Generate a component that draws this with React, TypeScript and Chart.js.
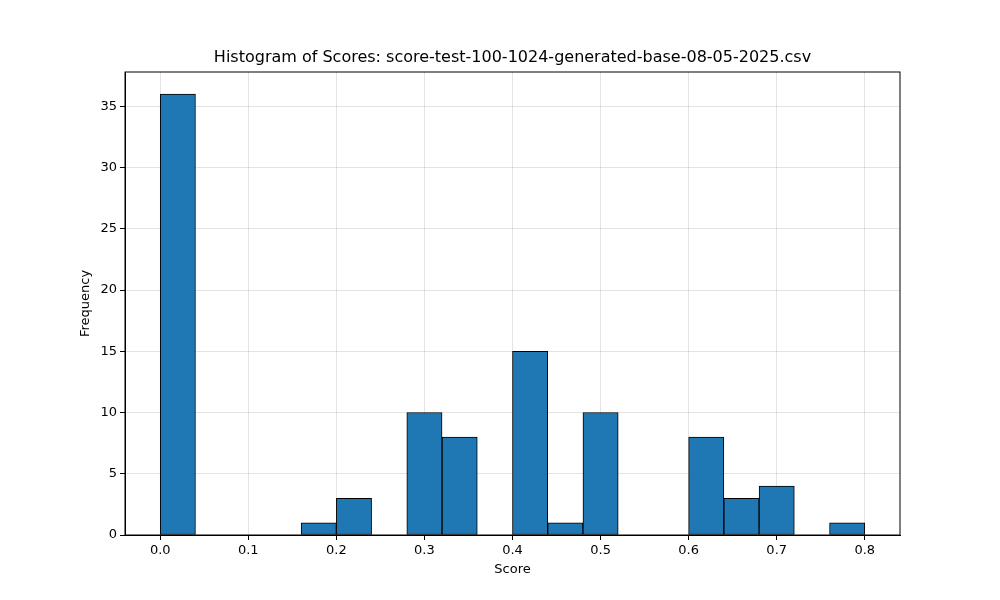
import { useEffect, useRef } from "react";
import Chart from "chart.js/auto";

const binStarts = [0, 0.04, 0.08, 0.12, 0.16, 0.2, 0.24, 0.28, 0.32, 0.36, 0.4, 0.44, 0.48, 0.52, 0.56, 0.6, 0.64, 0.68, 0.72, 0.76];
const binWidth = 0.04;
const counts = [36, 0, 0, 0, 1, 3, 0, 10, 8, 0, 15, 1, 10, 0, 0, 8, 3, 4, 0, 1];
const xTicks = [0, 0.1, 0.2, 0.3, 0.4, 0.5, 0.6, 0.7, 0.8];
const yTicks = [0, 5, 10, 15, 20, 25, 30, 35];

const FONT = "'DejaVu Sans', sans-serif";

export default function App() {
  const canvasRef = useRef<HTMLCanvasElement | null>(null);

  useEffect(() => {
    if (!canvasRef.current) return;
    const chart = new Chart(canvasRef.current, {
      type: "bar",
      data: {
        datasets: [
          {
            data: binStarts.map((s, i) => ({ x: s + binWidth / 2, y: counts[i] })),
            backgroundColor: "#1f77b4",
            borderColor: "#000000",
            borderWidth: 1,
            borderSkipped: false,
            barPercentage: 1,
            categoryPercentage: 1,
          },
        ],
      },
      options: {
        animation: false,
        responsive: false,
        layout: { padding: { left: 0, right: 100, top: 72, bottom: 0 } },
        plugins: {
          legend: { display: false },
          tooltip: { enabled: false },
        },
        scales: {
          x: {
            type: "linear",
            min: -0.04,
            max: 0.84,
            offset: false,
            afterBuildTicks: (axis: any) => {
              axis.ticks = xTicks.map((v) => ({ value: v }));
            },
            afterFit: (axis: any) => {
              axis.height = 65;
            },
            ticks: {
              color: "#000",
              font: { family: FONT, size: 13 },
              callback: (v: any) => Number(v).toFixed(1),
              maxRotation: 0,
            },
            grid: { offset: false, color: "rgba(176,176,176,0.35)", tickColor: "#000", tickLength: 5 },
            border: { color: "#000" },
            title: { display: true, text: "Score", color: "#000", font: { family: FONT, size: 13 }, padding: { bottom: 23 } },
          },
          y: {
            min: 0,
            max: 37.8,
            afterBuildTicks: (axis: any) => {
              axis.ticks = yTicks.map((v) => ({ value: v }));
            },
            afterFit: (axis: any) => {
              axis.width = 125;
            },
            ticks: { color: "#000", font: { family: FONT, size: 13 } },
            grid: { color: "rgba(176,176,176,0.35)", tickColor: "#000", tickLength: 5 },
            border: { color: "#000" },
            title: { display: true, text: "Frequency", color: "#000", font: { family: FONT, size: 13 }, padding: { top: 78 } },
          },
        },
      },
      plugins: [
        {
          id: "frame",
          afterDraw: (c: any) => {
            const { left, right, top, bottom } = c.chartArea;
            const ctx = c.ctx;
            ctx.save();
            ctx.strokeStyle = "#000";
            ctx.lineWidth = 1;
            ctx.strokeRect(left, top, right - left, bottom - top);
            ctx.restore();
          },
        },
      ],
    });
    return () => chart.destroy();
  }, []);

  return (
    <div style={{ position: "fixed", left: 0, top: 0, width: 1000, height: 600, background: "#fff" }}>
      <canvas ref={canvasRef} width={1000} height={600} />
      <div
        style={{
          position: "absolute",
          left: 125,
          width: 775,
          top: 47,
          textAlign: "center",
          fontFamily: FONT,
          fontSize: 16,
          lineHeight: "20px",
          color: "#000",
        }}
      >
        Histogram of Scores: score-test-100-1024-generated-base-08-05-2025.csv
      </div>
    </div>
  );
}
